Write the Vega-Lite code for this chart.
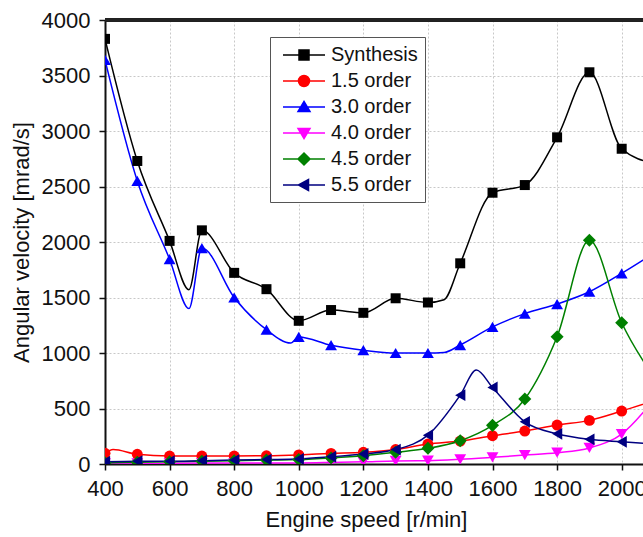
{
  "$schema": "https://vega.github.io/schema/vega-lite/v6.json",
  "width": 538,
  "height": 444,
  "autosize": {"type": "none"},
  "padding": {"left": 105, "top": 20, "right": 0, "bottom": 73},
  "background": "white",
  "config": {"view": {"stroke": null}, "font": "Liberation Sans"},
  "data": {"values": [
    {"speed":400,"series":"Synthesis","value":3830},{"speed":500,"series":"Synthesis","value":2730},{"speed":600,"series":"Synthesis","value":2010},{"speed":660,"series":"Synthesis","value":1570},{"speed":700,"series":"Synthesis","value":2105},{"speed":800,"series":"Synthesis","value":1722},{"speed":900,"series":"Synthesis","value":1575},{"speed":1000,"series":"Synthesis","value":1290},{"speed":1100,"series":"Synthesis","value":1387},{"speed":1200,"series":"Synthesis","value":1362},{"speed":1300,"series":"Synthesis","value":1493},{"speed":1400,"series":"Synthesis","value":1455},{"speed":1450,"series":"Synthesis","value":1480},{"speed":1500,"series":"Synthesis","value":1808},{"speed":1600,"series":"Synthesis","value":2444},{"speed":1700,"series":"Synthesis","value":2513},{"speed":1800,"series":"Synthesis","value":2943},{"speed":1900,"series":"Synthesis","value":3529},{"speed":2000,"series":"Synthesis","value":2840},{"speed":2100,"series":"Synthesis","value":2710},
    {"speed":400,"series":"1.5 order","value":96},{"speed":425,"series":"1.5 order","value":130},{"speed":500,"series":"1.5 order","value":87},{"speed":600,"series":"1.5 order","value":72},{"speed":700,"series":"1.5 order","value":72},{"speed":800,"series":"1.5 order","value":72},{"speed":900,"series":"1.5 order","value":74},{"speed":1000,"series":"1.5 order","value":82},{"speed":1100,"series":"1.5 order","value":95},{"speed":1200,"series":"1.5 order","value":105},{"speed":1300,"series":"1.5 order","value":130},{"speed":1400,"series":"1.5 order","value":180},{"speed":1500,"series":"1.5 order","value":207},{"speed":1600,"series":"1.5 order","value":255},{"speed":1700,"series":"1.5 order","value":297},{"speed":1800,"series":"1.5 order","value":351},{"speed":1900,"series":"1.5 order","value":393},{"speed":2000,"series":"1.5 order","value":477},{"speed":2100,"series":"1.5 order","value":570},
    {"speed":400,"series":"3.0 order","value":3640},{"speed":500,"series":"3.0 order","value":2550},{"speed":600,"series":"3.0 order","value":1845},{"speed":660,"series":"3.0 order","value":1400},{"speed":700,"series":"3.0 order","value":1945},{"speed":800,"series":"3.0 order","value":1500},{"speed":900,"series":"3.0 order","value":1210},{"speed":975,"series":"3.0 order","value":1090},{"speed":1000,"series":"3.0 order","value":1145},{"speed":1100,"series":"3.0 order","value":1070},{"speed":1200,"series":"3.0 order","value":1025},{"speed":1300,"series":"3.0 order","value":1000},{"speed":1400,"series":"3.0 order","value":1000},{"speed":1450,"series":"3.0 order","value":1005},{"speed":1500,"series":"3.0 order","value":1072},{"speed":1600,"series":"3.0 order","value":1235},{"speed":1700,"series":"3.0 order","value":1355},{"speed":1800,"series":"3.0 order","value":1441},{"speed":1900,"series":"3.0 order","value":1552},{"speed":2000,"series":"3.0 order","value":1718},{"speed":2100,"series":"3.0 order","value":1900},
    {"speed":400,"series":"4.0 order","value":5},{"speed":500,"series":"4.0 order","value":5},{"speed":600,"series":"4.0 order","value":6},{"speed":700,"series":"4.0 order","value":8},{"speed":800,"series":"4.0 order","value":8},{"speed":900,"series":"4.0 order","value":10},{"speed":1000,"series":"4.0 order","value":10},{"speed":1100,"series":"4.0 order","value":14},{"speed":1200,"series":"4.0 order","value":20},{"speed":1300,"series":"4.0 order","value":28},{"speed":1400,"series":"4.0 order","value":30},{"speed":1500,"series":"4.0 order","value":42},{"speed":1600,"series":"4.0 order","value":60},{"speed":1700,"series":"4.0 order","value":80},{"speed":1800,"series":"4.0 order","value":102},{"speed":1900,"series":"4.0 order","value":145},{"speed":2000,"series":"4.0 order","value":270},{"speed":2100,"series":"4.0 order","value":580},
    {"speed":400,"series":"4.5 order","value":10},{"speed":500,"series":"4.5 order","value":15},{"speed":600,"series":"4.5 order","value":20},{"speed":700,"series":"4.5 order","value":25},{"speed":800,"series":"4.5 order","value":30},{"speed":900,"series":"4.5 order","value":35},{"speed":1000,"series":"4.5 order","value":40},{"speed":1100,"series":"4.5 order","value":55},{"speed":1200,"series":"4.5 order","value":75},{"speed":1300,"series":"4.5 order","value":105},{"speed":1400,"series":"4.5 order","value":141},{"speed":1500,"series":"4.5 order","value":210},{"speed":1600,"series":"4.5 order","value":348},{"speed":1700,"series":"4.5 order","value":585},{"speed":1800,"series":"4.5 order","value":1147},{"speed":1900,"series":"4.5 order","value":2015},{"speed":2000,"series":"4.5 order","value":1273},{"speed":2100,"series":"4.5 order","value":780},
    {"speed":400,"series":"5.5 order","value":20},{"speed":500,"series":"5.5 order","value":25},{"speed":600,"series":"5.5 order","value":25},{"speed":700,"series":"5.5 order","value":30},{"speed":800,"series":"5.5 order","value":35},{"speed":900,"series":"5.5 order","value":40},{"speed":1000,"series":"5.5 order","value":45},{"speed":1100,"series":"5.5 order","value":65},{"speed":1200,"series":"5.5 order","value":90},{"speed":1300,"series":"5.5 order","value":130},{"speed":1400,"series":"5.5 order","value":260},{"speed":1500,"series":"5.5 order","value":620},{"speed":1550,"series":"5.5 order","value":846},{"speed":1600,"series":"5.5 order","value":690},{"speed":1700,"series":"5.5 order","value":380},{"speed":1800,"series":"5.5 order","value":272},{"speed":1900,"series":"5.5 order","value":222},{"speed":2000,"series":"5.5 order","value":200},{"speed":2100,"series":"5.5 order","value":180}
  ]},
  "layer": [
    {
      "mark": {"type": "line", "interpolate": "monotone", "strokeWidth": 1.5, "clip": true},
      "encoding": {
        "x": {"field": "speed", "type": "quantitative",
          "scale": {"domain": [400, 2066], "nice": false},
          "axis": {"title": "Engine speed [r/min]", "titleX": 261, "titleFontSize": 22, "titleFontWeight": "normal", "titlePadding": 10, "titleColor": "#111",
            "values": [400,500,600,700,800,900,1000,1100,1200,1300,1400,1500,1600,1700,1800,1900,2000],
            "format": "d", "labelExpr": "datum.value % 200 === 0 ? datum.label : ''",
            "labelFontSize": 22, "labelColor": "#111", "labelPadding": 8, "labelFlush": false, "labelOverlap": false,
            "tickSize": 6, "tickWidth": 1.5, "tickColor": "#111",
            "domainColor": "#111", "domainWidth": 2,
            "grid": true, "gridColor": "#c8c8c8", "gridDash": [2, 2], "gridWidth": 1,
            "gridOpacity": {"condition": {"test": "datum.value % 200 === 0 && datum.value > 400", "value": 1}, "value": 0}}},
        "y": {"field": "value", "type": "quantitative",
          "scale": {"domain": [0, 4000], "nice": false},
          "axis": {"title": "Angular velocity [mrad/s]", "titleFontSize": 22, "titleFontWeight": "normal", "titlePadding": 8, "titleColor": "#111",
            "values": [0,250,500,750,1000,1250,1500,1750,2000,2250,2500,2750,3000,3250,3500,3750,4000],
            "format": "d", "labelExpr": "datum.value % 500 === 0 ? datum.label : ''",
            "labelFontSize": 22, "labelColor": "#111", "labelPadding": 9, "labelFlush": false, "labelOverlap": false,
            "tickSize": 6, "tickWidth": 1.5, "tickColor": "#111",
            "domainColor": "#111", "domainWidth": 2,
            "grid": true, "gridColor": "#c8c8c8", "gridDash": [2, 2], "gridWidth": 1,
            "gridOpacity": {"condition": {"test": "datum.value % 500 === 0 && datum.value > 0 && datum.value < 4000", "value": 1}, "value": 0}}},
        "color": {"field": "series", "type": "nominal",
          "scale": {"domain": ["Synthesis","1.5 order","3.0 order","4.0 order","4.5 order","5.5 order"],
                    "range": ["#000000","#ff0000","#0000ff","#ff00ff","#008000","#000080"]},
          "legend": {"title": null, "orient": "none", "legendX": 165, "legendY": 17,
            "padding": 7, "strokeColor": "#555", "fillColor": "white",
            "labelFontSize": 20, "labelColor": "#111", "labelOffset": 27, "rowPadding": 5,
            "symbolSize": 400, "symbolOffset": 5, "symbolStrokeWidth": 1.5,
            "encode": {"symbols": {"update": {
              "shape": {"signal": "datum.value === 'Synthesis' ? 'M-1,0H3.2M0.6,-0.5H1.6V0.5H0.6Z' : datum.value === '1.5 order' ? 'M-1,0H3.2M1.65,0A0.55,0.55 0 1 1 0.55,0A0.55,0.55 0 1 1 1.65,0Z' : datum.value === '3.0 order' ? 'M-1,0H3.2M1.1,-0.55L1.7,0.45L0.5,0.45Z' : datum.value === '4.0 order' ? 'M-1,0H3.2M1.1,0.55L1.7,-0.45L0.5,-0.45Z' : datum.value === '4.5 order' ? 'M-1,0H3.2M1.1,-0.6L1.7,0L1.1,0.6L0.5,0Z' : 'M-1,0H3.2M0.55,0L1.55,-0.55L1.55,0.55Z'"},
              "fill": {"scale": "color", "field": "value"},
              "strokeWidth": {"value": 1.5}
            }}}
          }
        }
      }
    },
    {
      "transform": [{"filter": "datum.series === 'Synthesis' && datum.speed % 100 === 0"}],
      "mark": {"type": "point", "shape": "square", "filled": true, "color": "#000000", "opacity": 1, "size": 100, "clip": true},
      "encoding": {"x": {"field": "speed", "type": "quantitative"}, "y": {"field": "value", "type": "quantitative"}}
    },
    {
      "transform": [{"filter": "datum.series === '1.5 order' && datum.speed % 100 === 0"}],
      "mark": {"type": "point", "shape": "circle", "filled": true, "color": "#ff0000", "opacity": 1, "size": 120, "clip": true},
      "encoding": {"x": {"field": "speed", "type": "quantitative"}, "y": {"field": "value", "type": "quantitative"}}
    },
    {
      "transform": [{"filter": "datum.series === '3.0 order' && datum.speed % 100 === 0"}],
      "mark": {"type": "point", "shape": "triangle-up", "filled": true, "color": "#0000ff", "opacity": 1, "size": 140, "clip": true},
      "encoding": {"x": {"field": "speed", "type": "quantitative"}, "y": {"field": "value", "type": "quantitative"}}
    },
    {
      "transform": [{"filter": "datum.series === '4.0 order' && datum.speed % 100 === 0"}],
      "mark": {"type": "point", "shape": "triangle-down", "filled": true, "color": "#ff00ff", "opacity": 1, "size": 140, "clip": true},
      "encoding": {"x": {"field": "speed", "type": "quantitative"}, "y": {"field": "value", "type": "quantitative"}}
    },
    {
      "transform": [{"filter": "datum.series === '4.5 order' && datum.speed % 100 === 0"}],
      "mark": {"type": "point", "shape": "diamond", "filled": true, "color": "#008000", "opacity": 1, "size": 170, "clip": true},
      "encoding": {"x": {"field": "speed", "type": "quantitative"}, "y": {"field": "value", "type": "quantitative"}}
    },
    {
      "transform": [{"filter": "datum.series === '5.5 order' && datum.speed % 100 === 0"}],
      "mark": {"type": "point", "shape": "triangle-left", "filled": true, "color": "#000080", "opacity": 1, "size": 140, "clip": true},
      "encoding": {"x": {"field": "speed", "type": "quantitative"}, "y": {"field": "value", "type": "quantitative"}}
    },
    {
      "mark": {"type": "rule", "color": "#222", "strokeWidth": 2.5},
      "encoding": {"y": {"datum": 4000, "type": "quantitative"}}
    }
  ]
}
